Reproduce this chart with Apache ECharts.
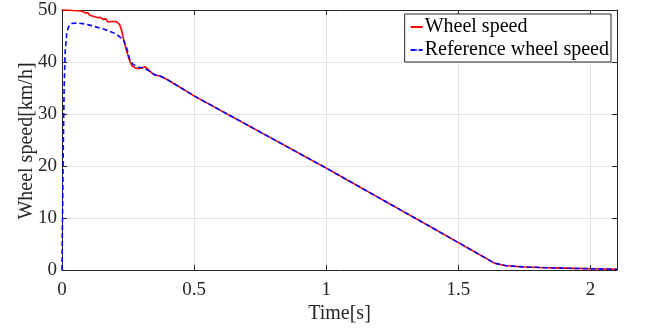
<!DOCTYPE html>
<html>
<head>
<meta charset="utf-8">
<script src="https://cdn.jsdelivr.net/npm/echarts@6/dist/echarts.min.js"></script>
<style>
    html, body { margin: 0; padding: 0; background: #fff; }
    #main { width: 647px; height: 329px; }
</style>
</head>
<body>
<div id="main"></div>
<script>
// 数据
var timeWheel = [0, 0.02, 0.042, 0.073, 0.09, 0.098, 0.105, 0.111, 0.118, 0.125, 0.136, 0.145, 0.155, 0.165, 0.174, 0.187, 0.2, 0.208, 0.218, 0.226, 0.232, 0.245, 0.257, 0.266, 0.276, 0.287, 0.295, 0.305, 0.314, 0.323, 0.333, 0.342, 0.352, 0.371, 0.396, 0.503, 1.0, 1.43, 1.638, 1.68, 1.75, 1.81, 1.9, 2.0, 2.1];
var speedWheel = [50, 50, 49.9, 49.8, 49.4, 49.5, 49.0, 49.3, 48.8, 49.0, 48.5, 48.6, 48.2, 48.3, 47.7, 47.8, 47.8, 47.7, 47.2, 46.0, 44.6, 42.0, 40.1, 39.2, 38.9, 38.7, 38.8, 38.9, 39.1, 38.7, 38.2, 37.8, 37.5, 37.3, 36.7, 33.4, 19.6, 7.3, 1.3, 0.85, 0.6, 0.5, 0.38, 0.27, 0.15];

var timeRef = [0, 0.004, 0.008, 0.012, 0.018, 0.025, 0.035, 0.06, 0.09, 0.111, 0.16, 0.2, 0.215, 0.232, 0.243, 0.257, 0.27, 0.29, 0.308, 0.333, 0.352, 0.371, 0.396, 0.503, 1.0, 1.43, 1.638, 1.68, 1.75, 1.81, 1.9, 2.0, 2.1];
var speedRef = [0, 20, 35, 42, 45.5, 46.8, 47.4, 47.5, 47.3, 47.0, 46.3, 45.5, 45.0, 44.3, 43.0, 40.4, 39.5, 39.0, 38.9, 38.2, 37.5, 37.3, 36.7, 33.4, 19.6, 7.3, 1.3, 0.85, 0.6, 0.5, 0.38, 0.27, 0.15];

var seriesNames = ['Wheel speed', 'Reference wheel speed'];
var yTitle = 'Wheel speed[km/h]';

function pairs(xs, ys) {
    var out = [];
    for (var i = 0; i < xs.length; i++) {
        out.push([xs[i], ys[i]]);
    }
    return out;
}

var font = 'Liberation Serif, Times New Roman, serif';
var ink = '#262626';

var myChart = echarts.init(document.getElementById('main'));

var boxAxis = {
    axisLine: { show: true, onZero: false, lineStyle: { color: ink, width: 1 } },
    axisTick: { show: true, inside: true, length: 5, lineStyle: { color: ink } },
    axisLabel: { show: false },
    splitLine: { show: false }
};

var option = {
    animation: false,
    backgroundColor: '#fff',
    grid: { left: 62, right: 30, top: 10, bottom: 58 },
    // y轴标题单独画，位置更好控制
    graphic: [
        {
            type: 'text',
            x: 27,
            y: 141,
            rotation: Math.PI / 2,
            style: {
                text: yTitle,
                fontFamily: font,
                fontSize: 20,
                fill: ink,
                align: 'center',
                verticalAlign: 'middle'
            }
        }
    ],
    legend: {
        data: seriesNames,
        orient: 'vertical',
        right: 36,
        top: 14,
        padding: [3, 2, 2, 5],
        itemGap: 3,
        itemWidth: 12,
        itemHeight: 2,
        backgroundColor: '#fff',
        borderColor: ink,
        borderWidth: 1,
        borderRadius: 0,
        textStyle: { fontFamily: font, fontSize: 20, color: '#000', padding: [0, 0, 0, -3] }
    },
    xAxis: [
        {
            type: 'value',
            min: 0,
            max: 2.1,
            interval: 0.5,
            name: 'Time[s]',
            nameLocation: 'middle',
            nameGap: 33,
            nameTextStyle: { fontFamily: font, fontSize: 20, color: ink },
            axisLine: { show: true, onZero: false, lineStyle: { color: ink } },
            axisTick: { show: true, inside: true, length: 5, lineStyle: { color: ink } },
            axisLabel: { fontFamily: font, fontSize: 19, color: ink, margin: 10, showMaxLabel: false },
            splitLine: { show: true, lineStyle: { color: '#e3e3e3', width: 1 } }
        },
        Object.assign({ type: 'value', position: 'top', min: 0, max: 2.1, interval: 0.5 }, boxAxis)
    ],
    yAxis: [
        {
            type: 'value',
            min: 0,
            max: 50,
            interval: 10,
            axisLine: { show: true, onZero: false, lineStyle: { color: ink } },
            axisTick: { show: true, inside: true, length: 5, lineStyle: { color: ink } },
            axisLabel: { fontFamily: font, fontSize: 19, color: ink, margin: 5 },
            splitLine: { show: true, lineStyle: { color: '#e3e3e3', width: 1 } }
        },
        Object.assign({ type: 'value', position: 'right', min: 0, max: 50, interval: 10 }, boxAxis)
    ],
    series: [
        {
            name: seriesNames[0],
            type: 'line',
            showSymbol: false,
            symbol: 'none',
            lineStyle: { color: '#ff0000', width: 1.6 },
            itemStyle: { color: '#ff0000' },
            data: pairs(timeWheel, speedWheel)
        },
        {
            name: seriesNames[1],
            type: 'line',
            showSymbol: false,
            symbol: 'none',
            lineStyle: { color: '#0000ff', width: 1.6, type: [5, 3] },
            itemStyle: { color: '#0000ff' },
            data: pairs(timeRef, speedRef)
        }
    ]
};

myChart.setOption(option);
</script>
</body>
</html>
